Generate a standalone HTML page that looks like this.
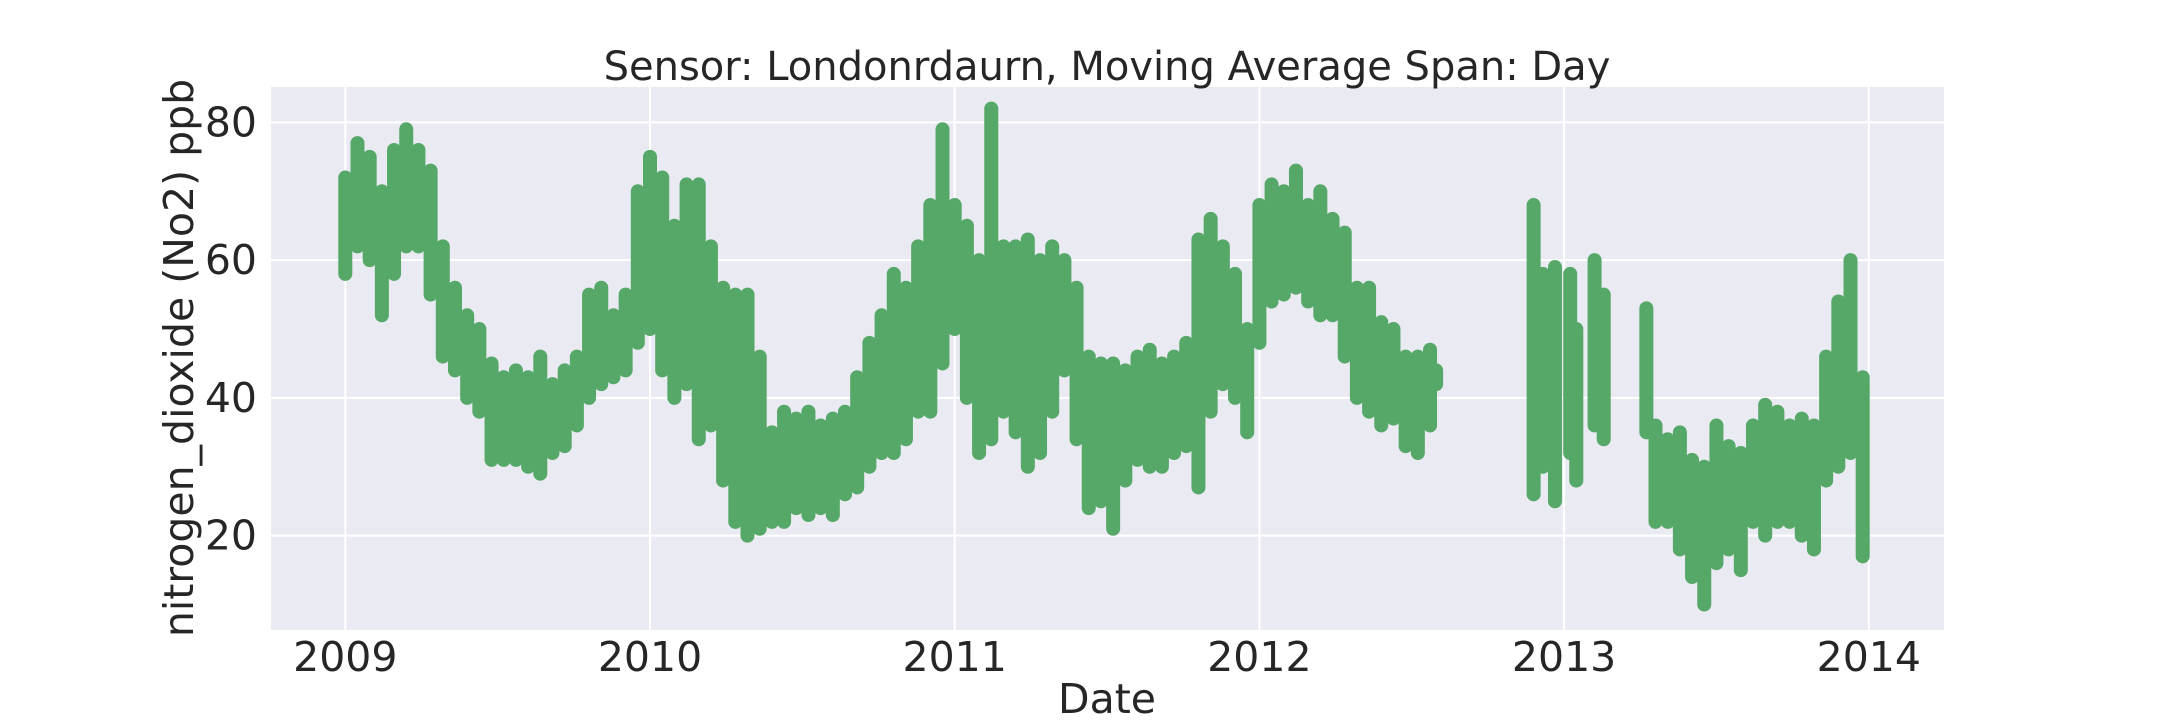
<!DOCTYPE html>
<html><head><meta charset="utf-8"><style>
html,body{margin:0;padding:0;background:#fff;}
svg{display:block;font-family:"DejaVu Sans","Liberation Sans",sans-serif;}
</style></head><body>
<svg id="chart" width="2160" height="720" viewBox="0 0 2160 720" xmlns="http://www.w3.org/2000/svg">
<rect x="271" y="87" width="1673" height="543" fill="#eaeaf2"/>
<g id="grid"></g>
<g id="marks"></g>
<g id="axes"></g>
<text x="1107" y="80" font-size="40" fill="#262626" text-anchor="middle">Sensor: Londonrdaurn, Moving Average Span: Day</text>
<text x="1107" y="713" font-size="41" fill="#262626" text-anchor="middle">Date</text>
<text x="0" y="0" font-size="41" fill="#262626" text-anchor="middle" transform="translate(193,358) rotate(-90)">nitrogen_dioxide (No2) ppb</text>
</svg>
<script>
const dates=[2009.00,2009.04,2009.08,2009.12,2009.16,2009.20,2009.24,2009.28,2009.32,2009.36,2009.40,2009.44,2009.48,2009.52,2009.56,2009.60,2009.64,2009.68,2009.72,2009.76,2009.80,2009.84,2009.88,2009.92,2009.96,
2010.00,2010.04,2010.08,2010.12,2010.16,2010.20,2010.24,2010.28,2010.32,2010.36,2010.40,2010.44,2010.48,2010.52,2010.56,2010.60,2010.64,2010.68,2010.72,2010.76,2010.80,2010.84,2010.88,2010.92,2010.96,
2011.00,2011.04,2011.08,2011.12,2011.16,2011.20,2011.24,2011.28,2011.32,2011.36,2011.40,2011.44,2011.48,2011.52,2011.56,2011.60,2011.64,2011.68,2011.72,2011.76,2011.80,2011.84,2011.88,2011.92,2011.96,
2012.00,2012.04,2012.08,2012.12,2012.16,2012.20,2012.24,2012.28,2012.32,2012.36,2012.40,2012.44,2012.48,2012.52,2012.56,2012.58,
2012.90,2012.93,2012.97,2013.02,2013.04,2013.10,2013.13,
2013.27,2013.30,2013.34,2013.38,2013.42,2013.46,2013.50,2013.54,2013.58,2013.62,2013.66,2013.70,2013.74,2013.78,2013.82,2013.86,2013.90,2013.94,2013.98];
const lows=[58,62,60,52,58,62,62,55,46,44,40,38,31,31,31,30,29,32,33,36,40,42,43,44,48,
50,44,40,42,34,36,28,22,20,21,22,22,24,23,24,23,26,27,30,32,32,34,38,38,45,
50,40,32,34,38,35,30,32,38,44,34,24,25,21,28,31,30,30,32,33,27,38,42,40,35,
48,54,55,56,54,52,52,46,40,38,36,37,33,32,36,42,
26,30,25,32,28,36,34,
35,22,22,18,14,10,16,18,15,22,20,22,22,20,18,28,30,32,17];
const highs=[72,77,75,70,76,79,76,73,62,56,52,50,45,43,44,43,46,42,44,46,55,56,52,55,70,
75,72,65,71,71,62,56,55,55,46,35,38,37,38,36,37,38,43,48,52,58,56,62,68,79,
68,65,60,82,62,62,63,60,62,60,56,46,45,45,44,46,47,45,46,48,63,66,62,58,50,
68,71,70,73,68,70,66,64,56,56,51,50,46,46,47,44,
68,58,59,58,50,60,55,
53,36,34,35,31,30,36,33,32,36,39,38,36,37,36,46,54,60,43];
const yTicks=[20,40,60,80];
const xTicks=[2009,2010,2011,2012,2013,2014];
const NS="http://www.w3.org/2000/svg";
const X0=271,X1=1944,Y0=87,Y1=630;
function xs(t){return 345.3+(t-2009)*304.7;}
function ys(v){return 122.4+(80-v)*6.888;}
const grid=document.getElementById('grid'),marks=document.getElementById('marks'),axes=document.getElementById('axes');
function mk(tag,attrs,parent){const e=document.createElementNS(NS,tag);for(const k in attrs)e.setAttribute(k,attrs[k]);parent.appendChild(e);return e;}
yTicks.forEach(v=>{
  const l=mk('line',{x1:X0,x2:X1,y1:ys(v),y2:ys(v),stroke:'#fff','stroke-width':2},grid);
  
  
  const t=mk('text',{x:257,y:ys(v)+14,'font-size':41,fill:'#262626','text-anchor':'end'},axes);
  t.textContent=v;
  
  
});
xTicks.forEach(v=>{
  const l=mk('line',{x1:xs(v),x2:xs(v),y1:Y0,y2:Y1,stroke:'#fff','stroke-width':2},grid);
  
  
  const t=mk('text',{x:xs(v),y:671,'font-size':41,fill:'#262626','text-anchor':'middle'},axes);
  t.textContent=v;
  
  
});
dates.forEach((d,i)=>{
  const l=mk('line',{x1:xs(d),x2:xs(d),y1:ys(lows[i]),y2:ys(highs[i]),stroke:'#55a868','stroke-width':14,'stroke-linecap':'round'},marks);
  
  
});
</script>
</body></html>
